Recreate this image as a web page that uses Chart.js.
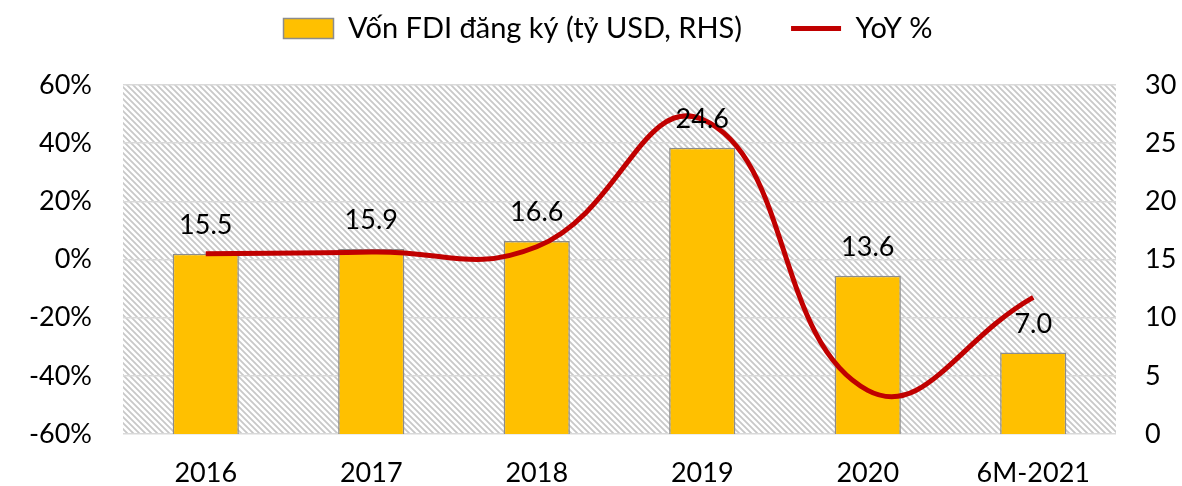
<!DOCTYPE html>
<html>
<head>
<meta charset="utf-8">
<script src="https://cdn.jsdelivr.net/npm/chart.js@4"></script>
<style>
  html, body { margin: 0; padding: 0; background: #fff; }
  #wrap { width: 1182px; height: 486px; }
</style>
</head>
<body>
<div id="wrap"><canvas id="fdiChart" width="1182" height="486"></canvas></div>
<script>
const categories = ["2016", "2017", "2018", "2019", "2020", "6M-2021"];
const fdiValues = [15.5, 15.9, 16.6, 24.6, 13.6, 7.0];   // tỷ USD, trục phải
const yoyValues = [2.0, 2.6, 4.4, 48.2, -45.0, -13.0];   // %, trục trái
const leftTicks = [-60, -40, -20, 0, 20, 40, 60];
const rightTicks = [0, 5, 10, 15, 20, 25, 30];

const FONT = "Lato, 'Open Sans', sans-serif";

// nền gạch chéo cho vùng biểu đồ
function makeHatch() {
  const c = document.createElement('canvas');
  c.width = 6; c.height = 6;
  const g = c.getContext('2d');
  g.fillStyle = '#ffffff';
  g.fillRect(0, 0, 6, 6);
  g.strokeStyle = '#c8c8c8';
  g.lineWidth = 1.8;
  g.beginPath();
  g.moveTo(-1, -1); g.lineTo(7, 7);
  g.moveTo(-4, 2); g.lineTo(2, 8);
  g.moveTo(2, -4); g.lineTo(8, 2);
  g.stroke();
  return g.createPattern(c, 'repeat');
}

const hatchBg = {
  id: 'hatchBg',
  beforeDraw(chart) {
    const { ctx, chartArea: a } = chart;
    ctx.save();
    ctx.fillStyle = makeHatch();
    ctx.fillRect(a.left, a.top, a.right - a.left, a.bottom - a.top);
    ctx.restore();
  }
};

// nhãn giá trị trên cột
const barLabels = {
  id: 'barLabels',
  afterDatasetsDraw(chart) {
    const ctx = chart.ctx;
    const meta = chart.getDatasetMeta(1);
    ctx.save();
    ctx.font = "27px " + FONT;
    ctx.fillStyle = '#000';
    ctx.textAlign = 'center';
    ctx.textBaseline = 'alphabetic';
    meta.data.forEach((bar, i) => {
      ctx.fillText(fdiValues[i].toFixed(1), bar.x, bar.y - 20);
    });
    ctx.restore();
  }
};

// cố định chiều cao legend, dịch legend sang phải một chút
const legendFit = {
  id: 'legendFit',
  beforeLayout(chart) {
    const l = chart.legend;
    if (l && !l._fixed) {
      const f = l.fit.bind(l);
      l.fit = function () {
        f();
        this.height = 120;
        if (this.lineWidths && this.lineWidths.length) this.lineWidths[0] -= 34;
      };
      l._fixed = true;
    }
  }
};

const ctx = document.getElementById('fdiChart').getContext('2d');

new Chart(ctx, {
  data: {
    labels: categories,
    datasets: [
      {
        type: 'line',
        label: 'YoY %',
        data: yoyValues,
        yAxisID: 'y',
        borderColor: '#c00000',
        backgroundColor: '#c00000',
        borderWidth: 5,
        pointRadius: 0,
        pointStyle: 'line',
        tension: 0.45,
        order: 1
      },
      {
        type: 'bar',
        label: 'Vốn FDI đăng ký (tỷ USD, RHS)',
        data: fdiValues,
        yAxisID: 'y1',
        backgroundColor: '#ffc000',
        borderColor: '#8c8c8c',
        borderWidth: 1.5,
        barPercentage: 0.4,
        categoryPercentage: 1,
        pointStyle: 'rect',
        order: 2
      }
    ]
  },
  options: {
    responsive: false,
    animation: false,
    layout: { padding: { top: -35, left: 0, right: 0, bottom: 0 } },
    plugins: {
      legend: {
        position: 'top',
        reverse: true,
        labels: {
          usePointStyle: true,
          pointStyleWidth: 50,
          boxHeight: 20,
          padding: 49,
          color: '#000',
          font: { family: FONT, size: 29 }
        }
      },
      tooltip: { enabled: false }
    },
    scales: {
      x: {
        grid: { display: false, drawTicks: false },
        border: { display: false },
        ticks: { color: '#000', padding: 23, font: { family: FONT, size: 27 } },
        afterFit(s) { s.height = 52; }
      },
      y: {
        position: 'left',
        min: -60,
        max: 60,
        afterBuildTicks(s) { s.ticks = leftTicks.map(v => ({ value: v })); },
        grid: { color: '#d9d9d9', lineWidth: 1.5, drawTicks: false },
        border: { display: false },
        ticks: {
          color: '#000',
          padding: 31,
          font: { family: FONT, size: 27 },
          callback: v => v + '%'
        },
        afterFit(s) { s.width = 123; }
      },
      y1: {
        position: 'right',
        min: 0,
        max: 30,
        afterBuildTicks(s) { s.ticks = rightTicks.map(v => ({ value: v })); },
        grid: { display: false, drawTicks: false },
        border: { display: false },
        ticks: { color: '#000', padding: 29, font: { family: FONT, size: 27 } },
        afterFit(s) { s.width = 66; }
      }
    }
  },
  plugins: [hatchBg, barLabels, legendFit]
});
</script>
</body>
</html>
